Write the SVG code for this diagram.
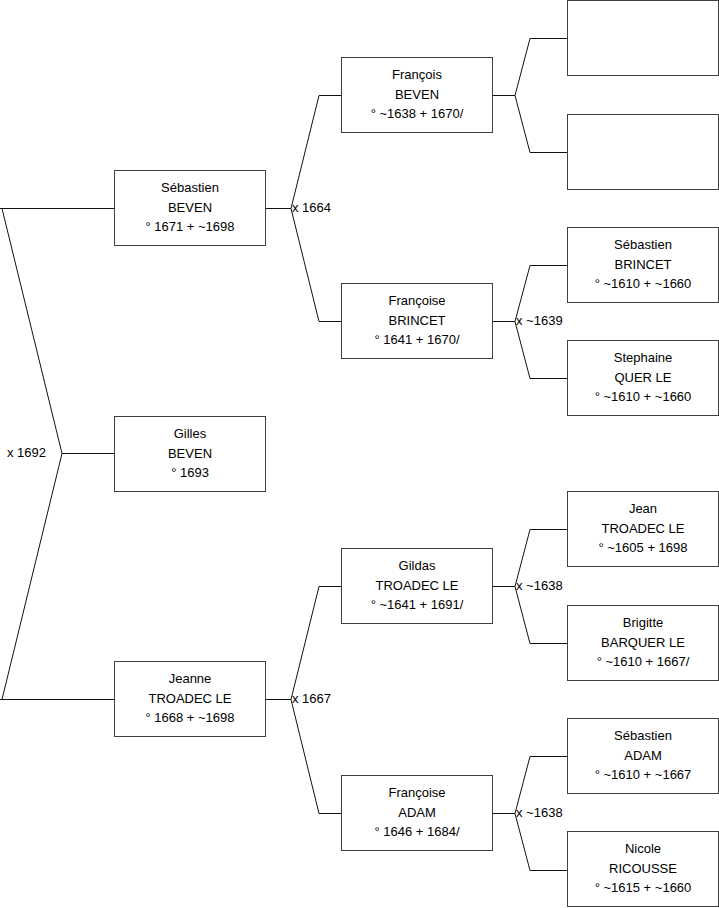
<svg xmlns="http://www.w3.org/2000/svg" width="719" height="908" viewBox="0 0 719 908">
<style>
.box{fill:#fff;stroke:#404040;stroke-width:1}
.ln{fill:none;stroke:#111;stroke-width:1}
text{font-family:"Liberation Sans",Arial,sans-serif;font-size:13px;fill:#000}
.c{text-anchor:middle}
</style>
<rect width="719" height="908" fill="#fff"/>
<g id="connectors">
<polyline class="ln" points="0,208.5 114,208.5"/>
<polyline class="ln" points="2,208.5 62,453.5 114,453.5"/>
<polyline class="ln" points="2,699.5 62,453.5"/>
<polyline class="ln" points="0,699.5 114,699.5"/>
<polyline class="ln" points="265,208.5 291,208.5"/>
<polyline class="ln" points="341,95.5 319,95.5 291,208.5 319,321.5 341,321.5"/>
<polyline class="ln" points="265,699.5 291,699.5"/>
<polyline class="ln" points="341,586.5 319,586.5 291,699.5 319,813.5 341,813.5"/>
<polyline class="ln" points="492,95.5 515,95.5"/>
<polyline class="ln" points="567,38.5 530,38.5 515,95.5 530,152.5 567,152.5"/>
<polyline class="ln" points="492,321.5 515,321.5"/>
<polyline class="ln" points="567,265.5 530,265.5 515,321.5 530,378.5 567,378.5"/>
<polyline class="ln" points="492,586.5 515,586.5"/>
<polyline class="ln" points="567,529.5 530,529.5 515,586.5 530,643.5 567,643.5"/>
<polyline class="ln" points="492,813.5 515,813.5"/>
<polyline class="ln" points="567,756.5 530,756.5 515,813.5 530,870.5 567,870.5"/>
<text x="7" y="457">x 1692</text>
<text x="292" y="212">x 1664</text>
<text x="292" y="703">x 1667</text>
<text x="516" y="325">x ~1639</text>
<text x="516" y="590">x ~1638</text>
<text x="516" y="817">x ~1638</text>
</g>
<g id="n-sebastien-beven">
<rect class="box" x="114.5" y="170.5" width="151" height="75"/>
<text class="c" x="190" y="192">Sébastien</text>
<text class="c" x="190" y="212">BEVEN</text>
<text class="c" x="190" y="231">° 1671 + ~1698</text>
</g>
<g id="n-gilles-beven">
<rect class="box" x="114.5" y="416.5" width="151" height="75"/>
<text class="c" x="190" y="438">Gilles</text>
<text class="c" x="190" y="458">BEVEN</text>
<text class="c" x="190" y="477">° 1693</text>
</g>
<g id="n-jeanne-troadec">
<rect class="box" x="114.5" y="661.5" width="151" height="75"/>
<text class="c" x="190" y="683">Jeanne</text>
<text class="c" x="190" y="703">TROADEC LE</text>
<text class="c" x="190" y="722">° 1668 + ~1698</text>
</g>
<g id="n-francois-beven">
<rect class="box" x="341.5" y="57.5" width="151" height="75"/>
<text class="c" x="417" y="79">François</text>
<text class="c" x="417" y="99">BEVEN</text>
<text class="c" x="417" y="118">° ~1638 + 1670/</text>
</g>
<g id="n-francoise-brincet">
<rect class="box" x="341.5" y="283.5" width="151" height="75"/>
<text class="c" x="417" y="305">Françoise</text>
<text class="c" x="417" y="325">BRINCET</text>
<text class="c" x="417" y="344">° 1641 + 1670/</text>
</g>
<g id="n-gildas-troadec">
<rect class="box" x="341.5" y="548.5" width="151" height="75"/>
<text class="c" x="417" y="570">Gildas</text>
<text class="c" x="417" y="590">TROADEC LE</text>
<text class="c" x="417" y="609">° ~1641 + 1691/</text>
</g>
<g id="n-francoise-adam">
<rect class="box" x="341.5" y="775.5" width="151" height="75"/>
<text class="c" x="417" y="797">Françoise</text>
<text class="c" x="417" y="817">ADAM</text>
<text class="c" x="417" y="836">° 1646 + 1684/</text>
</g>
<g id="n-empty-1">
<rect class="box" x="567.5" y="0.5" width="151" height="75"/>
</g>
<g id="n-empty-2">
<rect class="box" x="567.5" y="114.5" width="151" height="75"/>
</g>
<g id="n-sebastien-brincet">
<rect class="box" x="567.5" y="227.5" width="151" height="75"/>
<text class="c" x="643" y="249">Sébastien</text>
<text class="c" x="643" y="269">BRINCET</text>
<text class="c" x="643" y="288">° ~1610 + ~1660</text>
</g>
<g id="n-stephaine-quer">
<rect class="box" x="567.5" y="340.5" width="151" height="75"/>
<text class="c" x="643" y="362">Stephaine</text>
<text class="c" x="643" y="382">QUER LE</text>
<text class="c" x="643" y="401">° ~1610 + ~1660</text>
</g>
<g id="n-jean-troadec">
<rect class="box" x="567.5" y="491.5" width="151" height="75"/>
<text class="c" x="643" y="513">Jean</text>
<text class="c" x="643" y="533">TROADEC LE</text>
<text class="c" x="643" y="552">° ~1605 + 1698</text>
</g>
<g id="n-brigitte-barquer">
<rect class="box" x="567.5" y="605.5" width="151" height="75"/>
<text class="c" x="643" y="627">Brigitte</text>
<text class="c" x="643" y="647">BARQUER LE</text>
<text class="c" x="643" y="666">° ~1610 + 1667/</text>
</g>
<g id="n-sebastien-adam">
<rect class="box" x="567.5" y="718.5" width="151" height="75"/>
<text class="c" x="643" y="740">Sébastien</text>
<text class="c" x="643" y="760">ADAM</text>
<text class="c" x="643" y="779">° ~1610 + ~1667</text>
</g>
<g id="n-nicole-ricousse">
<rect class="box" x="567.5" y="831.5" width="151" height="75"/>
<text class="c" x="643" y="853">Nicole</text>
<text class="c" x="643" y="873">RICOUSSE</text>
<text class="c" x="643" y="892">° ~1615 + ~1660</text>
</g>
</svg>
